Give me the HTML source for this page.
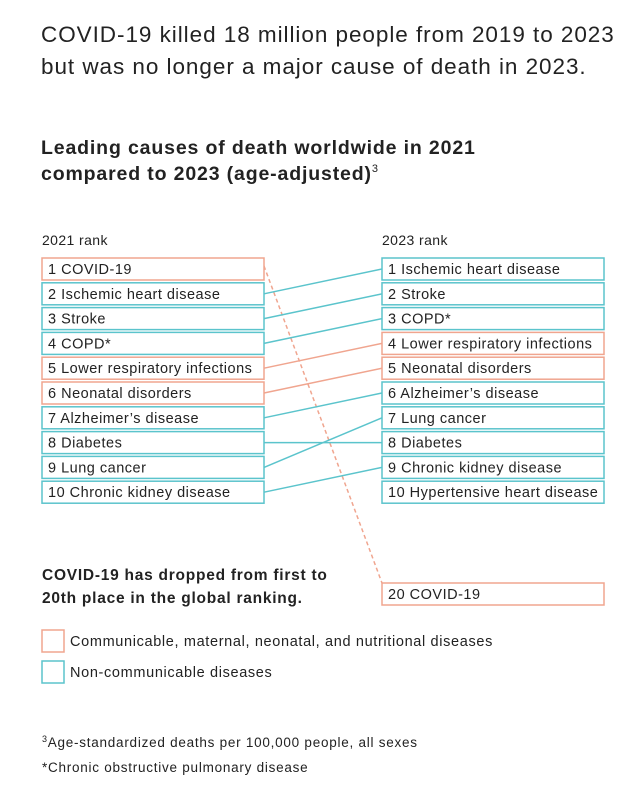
<!DOCTYPE html>
<html><head><meta charset="utf-8"><style>
body{margin:0;background:#fff;}
svg text{font-family:"Liberation Sans",sans-serif;fill:#222;}
</style></head><body>
<svg id="c" width="640" height="797" viewBox="0 0 640 797">
<text x="41" y="42" font-size="22.5" letter-spacing="0.95" fill="#333">COVID-19 killed 18 million people from 2019 to 2023</text>
<text x="41" y="74" font-size="22.5" letter-spacing="0.95" fill="#333">but was no longer a major cause of death in 2023.</text>
<text x="41" y="154" font-size="19.5" letter-spacing="0.85" font-weight="bold">Leading causes of death worldwide in 2021</text>
<text x="41" y="180" font-size="19.5" letter-spacing="0.85" font-weight="bold">compared to 2023 (age-adjusted)<tspan font-size="11" dy="-8" font-weight="normal">3</tspan></text>
<text x="42" y="245" font-size="14" letter-spacing="0.4">2021 rank</text>
<text x="382" y="245" font-size="14" letter-spacing="0.4">2023 rank</text>
<g id="links"></g><g id="boxes"></g>
<text x="42" y="580" font-size="15.5" letter-spacing="0.75" font-weight="bold">COVID-19 has dropped from first to</text>
<text x="42" y="603" font-size="15.5" letter-spacing="0.75" font-weight="bold">20th place in the global ranking.</text>
<rect x="42" y="630" width="22" height="22" fill="none" stroke="#f0a58f" stroke-width="1.5"/>
<text x="70" y="646" font-size="14.5" letter-spacing="0.65">Communicable, maternal, neonatal, and nutritional diseases</text>
<rect x="42" y="661" width="22" height="22" fill="none" stroke="#5bc4cc" stroke-width="1.5"/>
<text x="70" y="677" font-size="14.5" letter-spacing="0.65">Non-communicable diseases</text>
<text x="42" y="747" font-size="13.5" letter-spacing="0.75" fill="#333"><tspan font-size="9" dy="-5">3</tspan><tspan dy="5">Age-standardized deaths per 100,000 people, all sexes</tspan></text>
<text x="42" y="772" font-size="13.5" letter-spacing="0.75" fill="#333">*Chronic obstructive pulmonary disease</text>
</svg>
<script>
const causes2021=["COVID-19","Ischemic heart disease","Stroke","COPD*","Lower respiratory infections","Neonatal disorders","Alzheimer’s disease","Diabetes","Lung cancer","Chronic kidney disease"];
const ranks2021=[1,2,3,4,5,6,7,8,9,10];
const causes2023=["Ischemic heart disease","Stroke","COPD*","Lower respiratory infections","Neonatal disorders","Alzheimer’s disease","Lung cancer","Diabetes","Chronic kidney disease","Hypertensive heart disease","COVID-19"];
const ranks2023=[1,2,3,4,5,6,7,8,9,10,20];
const communicable=["COVID-19","Lower respiratory infections","Neonatal disorders"];
const NS="http://www.w3.org/2000/svg";
const TEAL="#5bc4cc",SAL="#f0a58f";
const LX=42,RX=382,W=222,H=22,TOP=258,PITCH=24.8;
function yOf(rank){return rank<=10?TOP+(rank-1)*PITCH:583;}
function colOf(n){return communicable.includes(n)?SAL:TEAL;}
const boxes=document.getElementById('boxes'),links=document.getElementById('links');
function box(x,rank,name,side){
  const y=yOf(rank);
  const g=document.createElementNS(NS,'g');
  
  
  const r=document.createElementNS(NS,'rect');
  r.setAttribute('x',x);r.setAttribute('y',y);r.setAttribute('width',W);r.setAttribute('height',H);
  r.setAttribute('fill','#fff');r.setAttribute('stroke',colOf(name));r.setAttribute('stroke-width','1.5');
  const t=document.createElementNS(NS,'text');
  t.setAttribute('x',x+6);t.setAttribute('y',y+16);t.setAttribute('font-size','14.5');
  t.setAttribute('letter-spacing','0.5');
  t.textContent=rank+' '+name;
  g.appendChild(r);g.appendChild(t);boxes.appendChild(g);
}
causes2021.forEach((n,i)=>box(LX,ranks2021[i],n,'2021'));
causes2023.forEach((n,i)=>box(RX,ranks2023[i],n,'2023'));
causes2021.forEach((n,i)=>{
  const j=causes2023.indexOf(n); if(j<0)return;
  const l=document.createElementNS(NS,'line');
  
  
  const dashed=n==="COVID-19";
  const y1=yOf(ranks2021[i])+H/2, y2=yOf(ranks2023[j])+(dashed?0:H/2);
  l.setAttribute('x1',LX+W);l.setAttribute('y1',dashed?y1-3:y1);
  l.setAttribute('x2',RX);l.setAttribute('y2',y2);
  l.setAttribute('stroke',colOf(n));l.setAttribute('stroke-width','1.5');
  if(dashed)l.setAttribute('stroke-dasharray','4 3');
  links.appendChild(l);
});
</script>
</body></html>
